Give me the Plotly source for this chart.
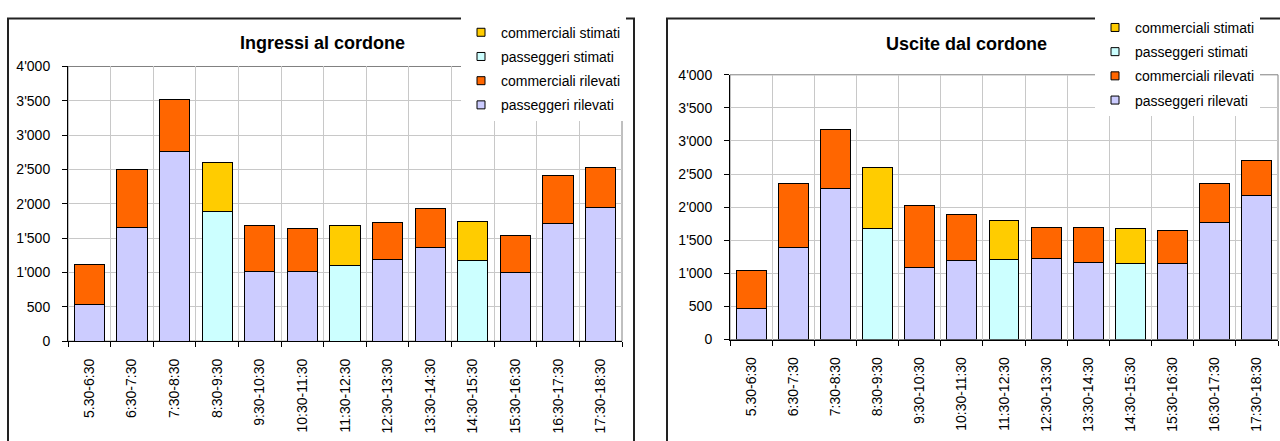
import plotly.graph_objects as go

W, H = 1280, 441

categories = ["5.30-6:30", "6:30-7:30", "7:30-8:30", "8:30-9:30", "9:30-10:30",
              "10:30-11:30", "11:30-12:30", "12:30-13:30", "13:30-14:30",
              "14:30-15:30", "15:30-16:30", "16:30-17:30", "17:30-18:30"]

# Ingressi al cordone
in_pass_ril = [541, 1662, 2768, None, 1008, 1008, None, 1195, 1368, None, 994, 1713, 1942]
in_comm_ril = [580, 844, 747, None, 672, 626, None, 532, 560, None, 546, 700, 583]
in_pass_stim = [None, None, None, 1886, None, None, 1106, None, None, 1181, None, None, None]
in_comm_stim = [None, None, None, 714, None, None, 574, None, None, 565, None, None, None]

# Uscite dal cordone
out_pass_ril = [467, 1390, 2280, None, 1084, 1196, None, 1230, 1162, None, 1142, 1764, 2182]
out_comm_ril = [583, 972, 894, None, 938, 700, None, 466, 534, None, 511, 598, 525]
out_pass_stim = [None, None, None, 1682, None, None, 1210, None, None, 1142, None, None, None]
out_comm_stim = [None, None, None, 913, None, None, 588, None, None, 540, None, None, None]

series_names = ["passeggeri rilevati", "commerciali rilevati", "passeggeri stimati", "commerciali stimati"]
series_colors = ["#CCCCFF", "#FF6600", "#CCFFFF", "#FFCC00"]

titles = ["Ingressi al cordone", "Uscite dal cordone"]
y_ticks = [0, 500, 1000, 1500, 2000, 2500, 3000, 3500, 4000]

FONT = "Arial, 'Liberation Sans', sans-serif"

def px(x):
    return x / W

def py(y):
    return (H - y) / H

fig = go.Figure()

data_sets = [
    [in_pass_ril, in_comm_ril, in_pass_stim, in_comm_stim],
    [out_pass_ril, out_comm_ril, out_pass_stim, out_comm_stim],
]

for k, ds in enumerate(data_sets):
    xa = "x" if k == 0 else "x2"
    ya = "y" if k == 0 else "y2"
    lg = "legend" if k == 0 else "legend2"
    for name, col, vals in zip(series_names, series_colors, ds):
        fig.add_trace(go.Bar(
            x=categories, y=vals, name=name,
            marker=dict(color=col, line=dict(color="#000000", width=1)),
            xaxis=xa, yaxis=ya, showlegend=False,
            hoverinfo="x+y+name",
        ))
    # legend entries with small square keys (legend only, no data drawn), top-down order
    order = list(range(len(series_names)))[::-1]
    for j, i in enumerate(order):
        fig.add_trace(go.Scatter(
            x=[None], y=[None], name=series_names[i], mode="markers",
            marker=dict(symbol="square", size=8, color=series_colors[i], line=dict(color="#000", width=1)),
            xaxis=xa, yaxis=ya, legend=lg, legendgroup=f"g{k}{j}", showlegend=True,
            hoverinfo="skip",
        ))

# plot area geometry (pixels)
plots = [
    dict(x0=68, x1=622, ytop=60.7, ybot=345.7),
    dict(x0=730, x1=1278, ytop=69.3, ybot=344.0),
]

axis_common_x = dict(
    type="category", tickson="boundaries", ticks="outside", ticklen=5,
    tickcolor="#000", tickwidth=1, showline=True, linecolor="#000", linewidth=1,
    showgrid=True, gridcolor="#C8C8C8", gridwidth=1, tickangle=-90,
    tickfont=dict(family=FONT, size=14, color="#000"), ticklabelstandoff=11,
    fixedrange=True, categoryorder="array", categoryarray=categories,
)
axis_common_y = dict(
    range=[0, 4000], tickvals=y_ticks, tickformat=",d", ticks="outside", ticklen=5,
    tickcolor="#000", tickwidth=1, showline=True, linecolor="#000", linewidth=1,
    showgrid=True, gridcolor="#C8C8C8", gridwidth=1, zeroline=False,
    tickfont=dict(family=FONT, size=14, color="#000"), ticklabelstandoff=9,
    fixedrange=True,
)

fig.update_layout(
    xaxis=dict(domain=[px(plots[0]["x0"]), px(plots[0]["x1"])], anchor="y", **axis_common_x),
    yaxis=dict(domain=[py(plots[0]["ybot"]), py(plots[0]["ytop"])], anchor="x", **axis_common_y),
    xaxis2=dict(domain=[px(plots[1]["x0"]), px(plots[1]["x1"])], anchor="y2", **axis_common_x),
    yaxis2=dict(domain=[py(plots[1]["ybot"]), py(plots[1]["ytop"])], anchor="x2", **axis_common_y),
)

legend_common = dict(
    traceorder="grouped", tracegroupgap=3, bgcolor="#FFFFFF", borderwidth=0,
    font=dict(family=FONT, size=14, color="#000"), itemsizing="trace",
    xanchor="left", yanchor="top", itemclick=False, itemdoubleclick=False,
)
fig.update_layout(
    legend=dict(x=px(461), y=py(9), **legend_common),
    legend2=dict(x=px(1095), y=py(4), **legend_common),
)

# titles
fig.add_annotation(text="<b>" + titles[0] + "</b>", x=px(322), y=py(36), xref="paper", yref="paper",
                   showarrow=False, xanchor="center", yanchor="middle",
                   font=dict(family=FONT, size=18, color="#000"))
fig.add_annotation(text="<b>" + titles[1] + "</b>", x=px(966), y=py(37), xref="paper", yref="paper",
                   showarrow=False, xanchor="center", yanchor="middle",
                   font=dict(family=FONT, size=18, color="#000"))

# plot area borders (gray) and chart area borders (black)
for xr, yr in [("x domain", "y domain"), ("x2 domain", "y2 domain")]:
    fig.add_shape(type="rect", xref=xr, yref=yr, x0=0, x1=1, y0=0, y1=1,
                  line=dict(color="#808080", width=1), layer="below")
fig.add_shape(type="rect", xref="paper", yref="paper", x0=px(8), x1=px(634), y0=-0.2, y1=py(11),
              line=dict(color="#222", width=2))
fig.add_shape(type="rect", xref="paper", yref="paper", x0=px(667), x1=1.2, y0=-0.2, y1=py(11),
              line=dict(color="#222", width=2))

fig.update_layout(
    width=W, height=H, margin=dict(l=0, r=0, t=0, b=0),
    paper_bgcolor="#FFFFFF", plot_bgcolor="#FFFFFF",
    barmode="stack", bargap=0.29, separators=".'",
    font=dict(family=FONT, size=14, color="#000"),
    showlegend=True,
)

fig.write_html("out.html", config=dict(displayModeBar=False))
